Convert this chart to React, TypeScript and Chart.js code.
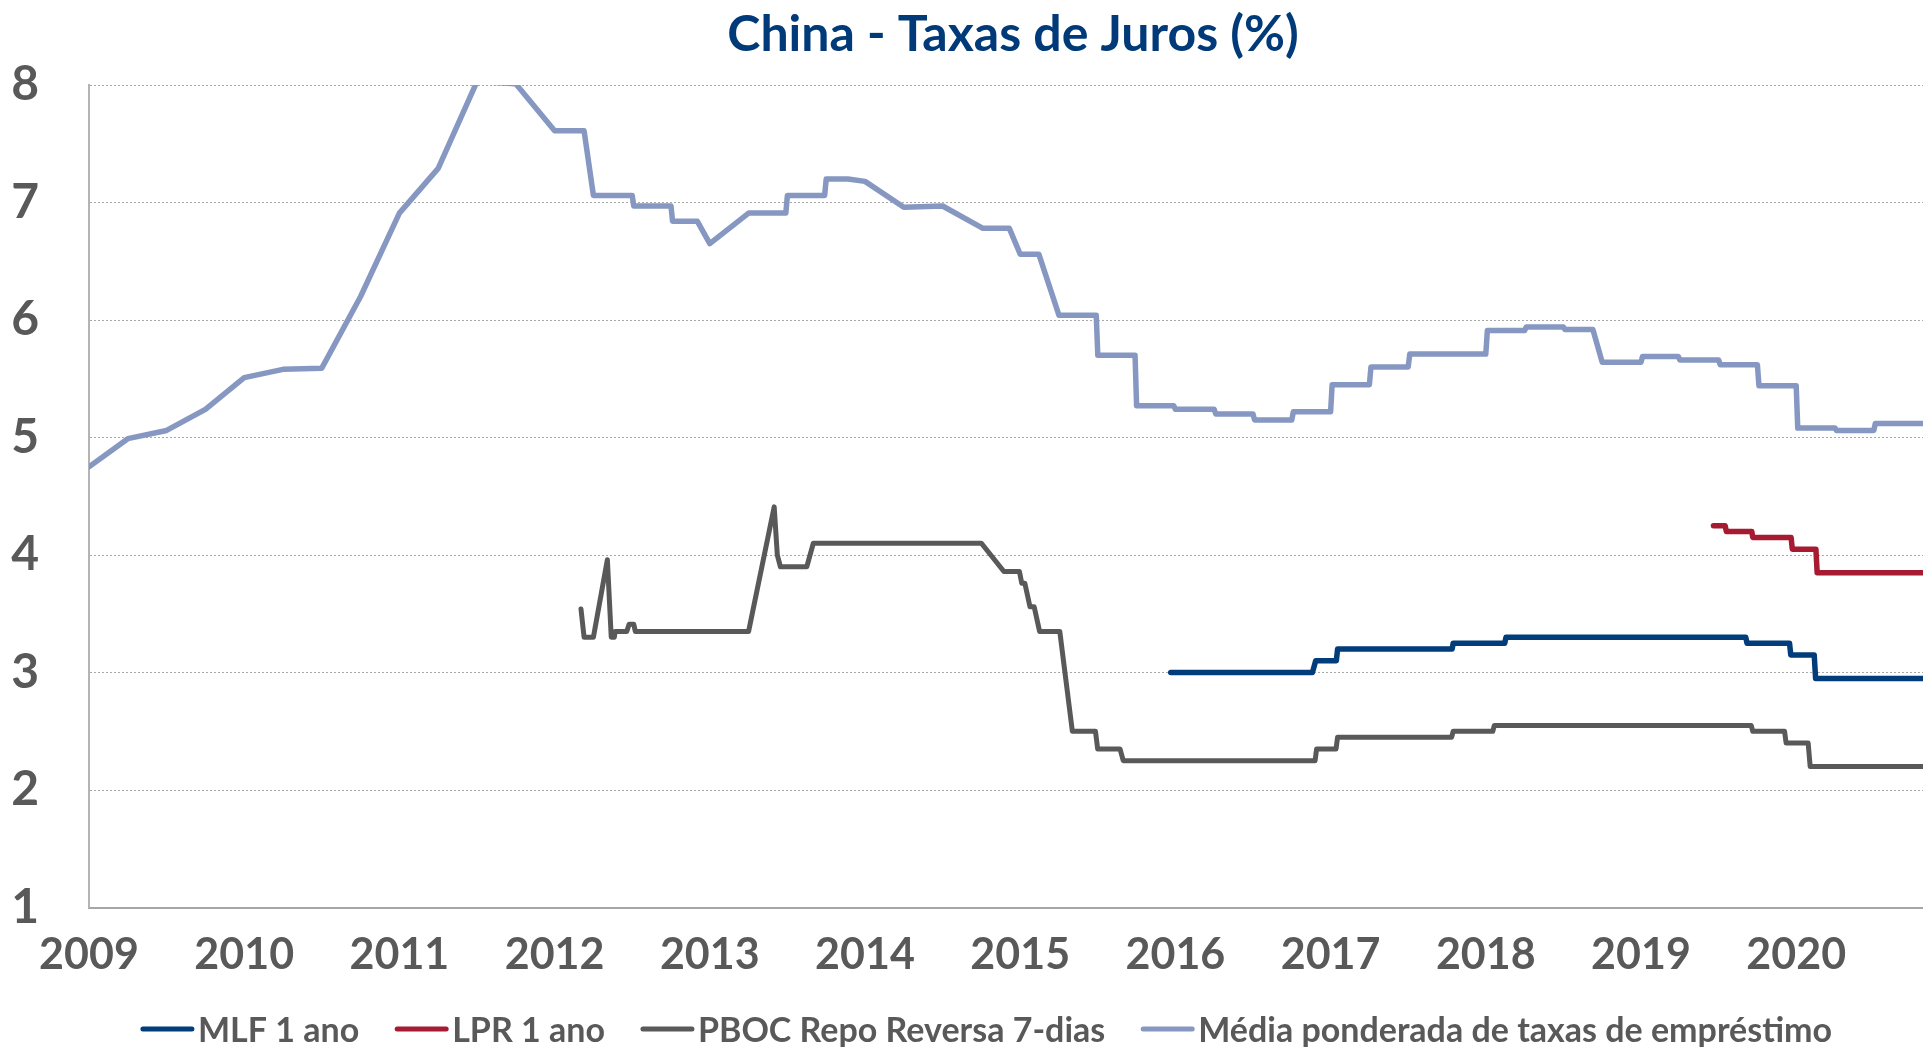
import React, { useEffect, useRef } from 'react';
import { Chart, registerables } from 'chart.js';

Chart.register(...registerables);

// ---- Data (x in decimal years, y in %) ----
const yearTicks = [2009, 2010, 2011, 2012, 2013, 2014, 2015, 2016, 2017, 2018, 2019, 2020];
const rateTicks = [1, 2, 3, 4, 5, 6, 7, 8];

const mlfX = [2015.97, 2016.883, 2016.904, 2017.037, 2017.045, 2017.783, 2017.79, 2018.122, 2018.13, 2019.675, 2019.683, 2019.957, 2019.965, 2020.116, 2020.125, 2020.85];
const mlfY = [3.0, 3.0, 3.1, 3.1, 3.2, 3.2, 3.25, 3.25, 3.3, 3.3, 3.25, 3.25, 3.15, 3.15, 2.95, 2.95];

const lprX = [2019.467, 2019.542, 2019.55, 2019.714, 2019.72, 2019.967, 2019.975, 2020.127, 2020.135, 2020.85];
const lprY = [4.25, 4.25, 4.2, 4.2, 4.15, 4.15, 4.05, 4.05, 3.85, 3.85];

const repoX = [2012.17, 2012.19, 2012.25, 2012.34, 2012.365, 2012.385, 2012.39, 2012.465, 2012.48, 2012.51, 2012.52, 2013.25, 2013.415, 2013.435, 2013.455, 2013.625, 2013.667, 2014.75, 2014.895, 2014.995, 2015.01, 2015.03, 2015.063, 2015.09, 2015.125, 2015.255, 2015.336, 2015.485, 2015.499, 2015.643, 2015.664, 2016.9, 2016.91, 2017.035, 2017.045, 2017.78, 2017.79, 2018.045, 2018.055, 2019.71, 2019.72, 2019.925, 2019.935, 2020.077, 2020.09, 2020.85];
const repoY = [3.54, 3.3, 3.3, 3.96, 3.3, 3.3, 3.35, 3.35, 3.41, 3.41, 3.35, 3.35, 4.41, 4.0, 3.9, 3.9, 4.1, 4.1, 3.86, 3.86, 3.76, 3.76, 3.56, 3.56, 3.35, 3.35, 2.5, 2.5, 2.35, 2.35, 2.25, 2.25, 2.35, 2.35, 2.45, 2.45, 2.5, 2.5, 2.55, 2.55, 2.5, 2.5, 2.4, 2.4, 2.2, 2.2];

const mediaX = [2009.0, 2009.25, 2009.5, 2009.75, 2010.0, 2010.25, 2010.5, 2010.75, 2011.0, 2011.25, 2011.5, 2011.75, 2012.0, 2012.19, 2012.25, 2012.5, 2012.51, 2012.75, 2012.76, 2012.92, 2013.0, 2013.25, 2013.49, 2013.5, 2013.74, 2013.75, 2013.89, 2014.0, 2014.25, 2014.5, 2014.76, 2014.93, 2015.0, 2015.12, 2015.25, 2015.49, 2015.5, 2015.74, 2015.75, 2015.99, 2016.0, 2016.25, 2016.26, 2016.5, 2016.51, 2016.75, 2016.76, 2017.0, 2017.01, 2017.25, 2017.26, 2017.5, 2017.51, 2018.0, 2018.01, 2018.25, 2018.26, 2018.5, 2018.51, 2018.69, 2018.75, 2019.0, 2019.01, 2019.24, 2019.25, 2019.5, 2019.51, 2019.75, 2019.76, 2020.0, 2020.01, 2020.25, 2020.26, 2020.5, 2020.51, 2020.85];
const mediaY = [4.75, 4.99, 5.06, 5.24, 5.51, 5.58, 5.59, 6.2, 6.91, 7.29, 8.03, 8.01, 7.61, 7.61, 7.06, 7.06, 6.97, 6.97, 6.84, 6.84, 6.65, 6.91, 6.91, 7.06, 7.06, 7.2, 7.2, 7.18, 6.96, 6.97, 6.78, 6.78, 6.56, 6.56, 6.04, 6.04, 5.7, 5.7, 5.27, 5.27, 5.24, 5.24, 5.2, 5.2, 5.15, 5.15, 5.22, 5.22, 5.45, 5.45, 5.6, 5.6, 5.71, 5.71, 5.91, 5.91, 5.94, 5.94, 5.92, 5.92, 5.64, 5.64, 5.69, 5.69, 5.66, 5.66, 5.62, 5.62, 5.44, 5.44, 5.08, 5.08, 5.06, 5.06, 5.12, 5.12];

const seriesLabels = ['MLF 1 ano', 'LPR 1 ano', 'PBOC Repo Reversa 7-dias', 'Média ponderada de taxas de empréstimo'];
const seriesColors = ['#003D7A', '#A61B32', '#595959', '#8697C1'];

const toPoints = (xs: number[], ys: number[]) => xs.map((x, i) => ({ x, y: ys[i] }));

const FONT = 'Lato';
const TEXT_GRAY = '#595959';

const legendPlugin = {
  id: 'customLegend',
  afterDraw(chart: any) {
    const ctx = chart.ctx as CanvasRenderingContext2D;
    ctx.save();
    ctx.font = `bold 34px ${FONT}`;
    const items = chart.data.datasets.map((ds: any) => ({ text: ds.label, color: ds.borderColor }));
    const sample = 55;
    const gap = 3;
    const spacing = 35;
    const widths = items.map((it: any) => sample + gap + ctx.measureText(it.text).width);
    const total = widths.reduce((a: number, b: number) => a + b, 0) + spacing * (items.length - 1);
    let x = 986 - total / 2;
    const y = 1029;
    items.forEach((it: any, i: number) => {
      ctx.strokeStyle = it.color;
      ctx.lineWidth = 5;
      ctx.lineCap = 'round';
      ctx.beginPath();
      ctx.moveTo(x + 3, y);
      ctx.lineTo(x + sample - 3, y);
      ctx.stroke();
      ctx.fillStyle = TEXT_GRAY;
      ctx.textBaseline = 'middle';
      ctx.textAlign = 'left';
      ctx.fillText(it.text, x + sample + gap, y + 2);
      x += widths[i] + spacing;
    });
    ctx.restore();
  },
};

export default function App() {
  const ref = useRef<HTMLCanvasElement>(null);

  useEffect(() => {
    const canvas = ref.current;
    if (!canvas) return;
    const W = 2026;
    const left = 89;
    const pxPerYear = 155.2;
    const xMax = 2009 + (W - left) / pxPerYear;

    const chart = new Chart(canvas, {
      type: 'line',
      data: {
        datasets: [
          { label: seriesLabels[0], data: toPoints(mlfX, mlfY), borderColor: seriesColors[0], backgroundColor: seriesColors[0], borderWidth: 5.5 },
          { label: seriesLabels[1], data: toPoints(lprX, lprY), borderColor: seriesColors[1], backgroundColor: seriesColors[1], borderWidth: 5.5 },
          { label: seriesLabels[2], data: toPoints(repoX, repoY), borderColor: seriesColors[2], backgroundColor: seriesColors[2], borderWidth: 5 },
          { label: seriesLabels[3], data: toPoints(mediaX, mediaY), borderColor: seriesColors[3], backgroundColor: seriesColors[3], borderWidth: 5.5 },
        ],
      },
      options: {
        responsive: false,
        animation: false,
        events: [],
        parsing: false as any,
        elements: {
          point: { radius: 0 },
          line: { tension: 0, borderJoinStyle: 'round', borderCapStyle: 'round', fill: false },
        },
        layout: { padding: { left: 0, right: 0, top: 0, bottom: 69.5 } },
        plugins: {
          legend: { display: false },
          tooltip: { enabled: false },
          title: {
            display: true,
            text: 'China - Taxas de Juros (%)',
            color: '#003A78',
            font: { family: FONT, size: 50, weight: 'bold' },
            padding: { top: 5, bottom: 20 },
          },
        },
        scales: {
          x: {
            type: 'linear',
            min: 2009,
            max: xMax,
            afterFit: (s: any) => { s.height = 70; },
            afterBuildTicks: (s: any) => { s.ticks = yearTicks.map((v) => ({ value: v })); },
            grid: { display: false, drawTicks: false },
            border: { display: true, color: '#A6A6A6', width: 2 },
            ticks: {
              autoSkip: false,
              maxRotation: 0,
              padding: 22,
              color: TEXT_GRAY,
              font: { family: FONT, size: 43, weight: 'bold' },
              callback: (v: any) => String(v),
            },
          },
          y: {
            type: 'linear',
            min: 1,
            max: 8,
            afterFit: (s: any) => { s.width = left; },
            afterBuildTicks: (s: any) => { s.ticks = rateTicks.map((v) => ({ value: v })); },
            grid: { color: '#A8A8A8', lineWidth: 1, drawTicks: false },
            border: { display: true, color: '#B4B4B4', width: 2, dash: [2, 2] },
            ticks: {
              padding: 50,
              color: TEXT_GRAY,
              font: { family: FONT, size: 48, weight: 'bold' },
              callback: (v: any) => String(v),
            },
          },
        },
      },
      plugins: [legendPlugin],
    } as any);

    return () => chart.destroy();
  }, []);

  return (
    <div style={{ position: 'fixed', left: 0, top: 0, width: '100vw', height: '100vh', overflow: 'hidden', background: '#ffffff' }}>
      <canvas ref={ref} width={2026} height={1047} style={{ display: 'block', width: 2026, height: 1047 }} />
    </div>
  );
}
